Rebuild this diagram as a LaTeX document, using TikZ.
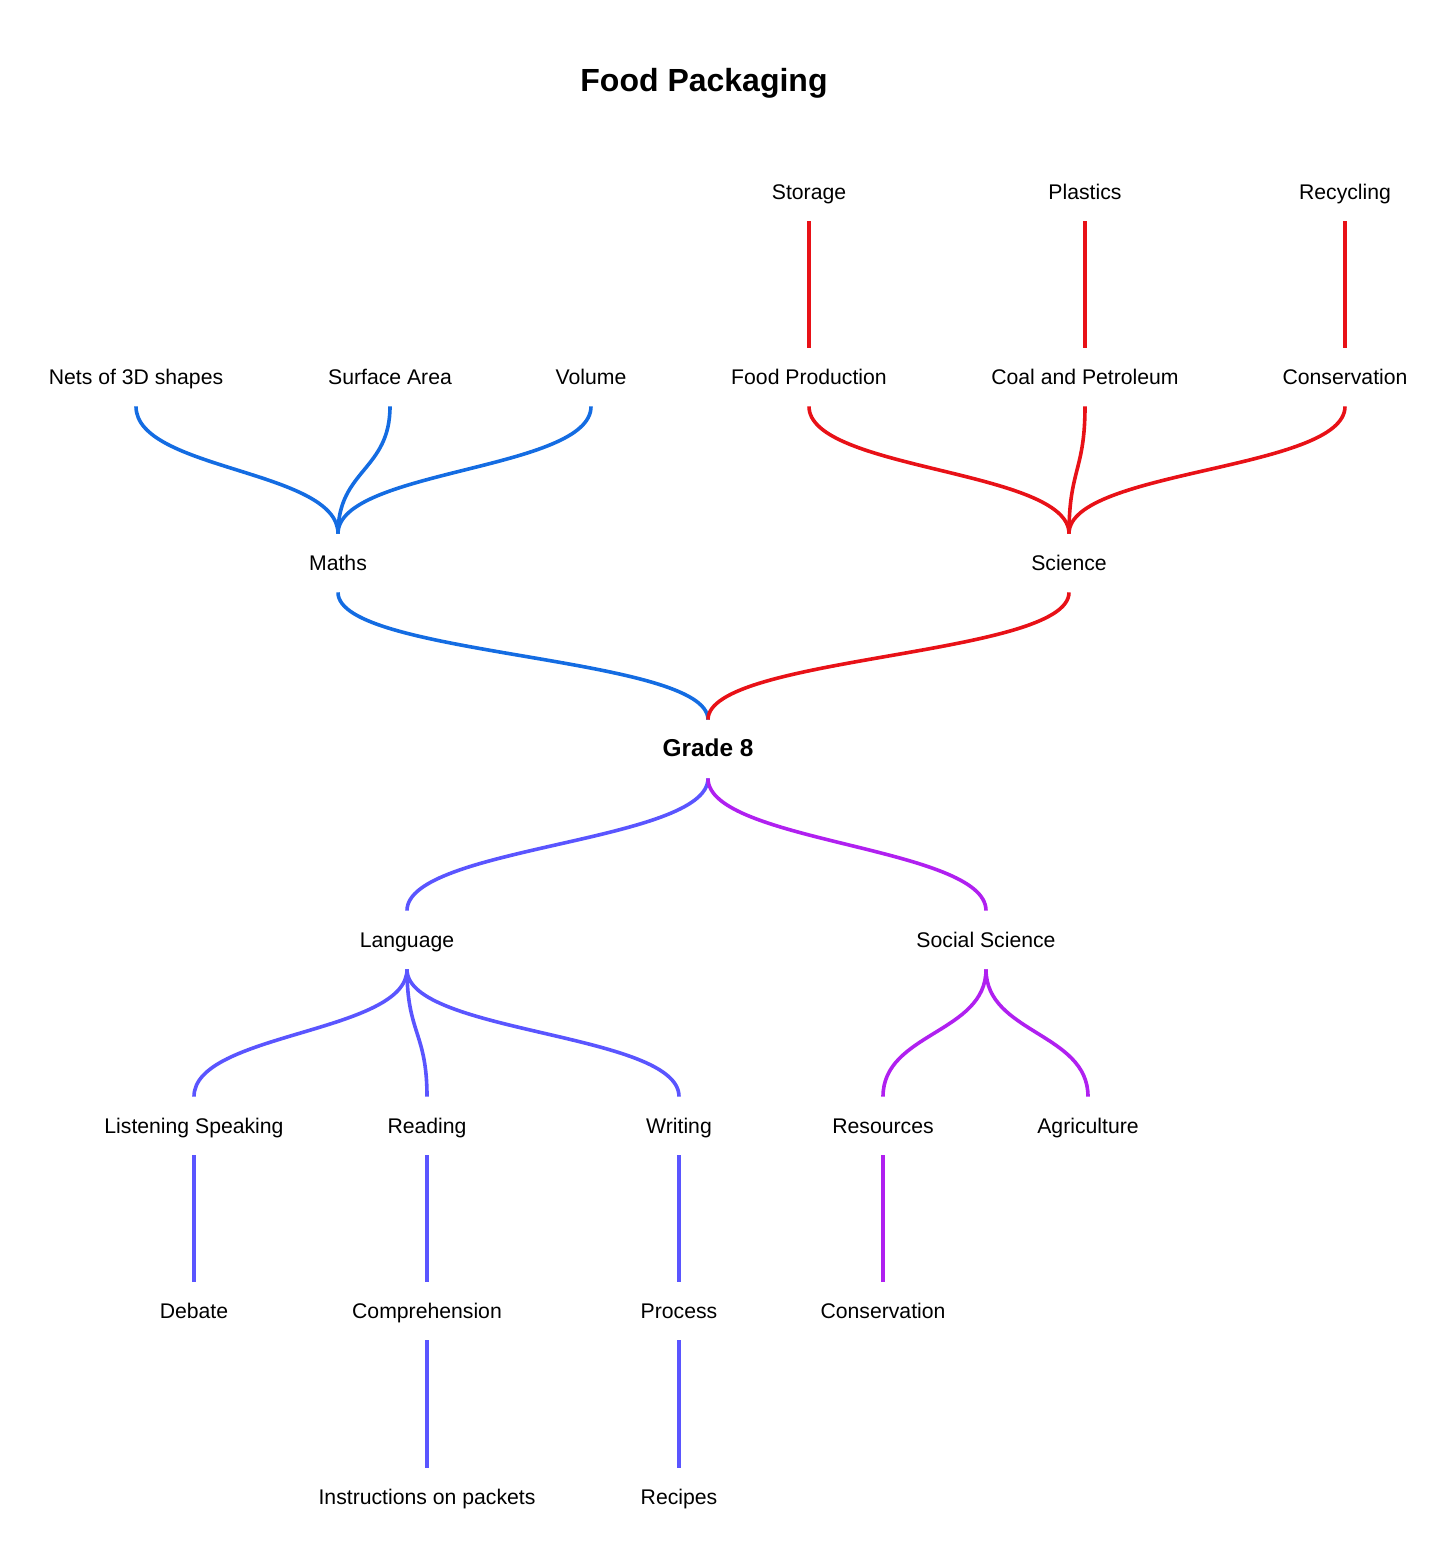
\documentclass[tikz,border=0pt]{standalone}
\usepackage{fontspec}
\setmainfont{Liberation Sans}
\usetikzlibrary{positioning}
\definecolor{mathsblue}{RGB}{20,108,226}
\definecolor{sciencered}{RGB}{232,17,23}
\definecolor{langblue}{RGB}{90,85,255}
\definecolor{socialpurple}{RGB}{176,32,240}
\tikzset{
	x=0.5pt,
	y=-0.5pt,
	topic/.style={
		inner sep=0pt,
		minimum height=29pt,
		text height=0.82em,
		text depth=0.11em,
		font=\fontsize{10.6}{12}\selectfont
	},
	hub/.style={
		topic,
		font=\fontsize{12.2}{14}\selectfont\bfseries
	},
	branch/.style={
		line width=1.8pt,
		to path={.. controls +(0,64) and +(0,-64) .. (\tikztotarget)}
	}
}

\begin{document}
\begin{tikzpicture}
  \useasboundingbox (0,0) rectangle (1456,1558);
  \node [font=\fontsize{16}{19}\selectfont\bfseries] (title) at (704,83) {Food Packaging};

  \node [topic] (storage) at (809,192) {Storage};
  \node [topic] (plastics) at (1085,192) {Plastics};
  \node [topic] (recycling) at (1345,192) {Recycling};

  \node [topic] (nets) at (136,377) {Nets of 3D shapes};
  \node [topic] (area) at (390,377) {Surface Area};
  \node [topic] (volume) at (591,377) {Volume};
  \node [topic] (food) at (809,377) {Food Production};
  \node [topic] (coal) at (1085,377) {Coal and Petroleum};
  \node [topic] (conserve) at (1345,377) {Conservation};

  \node [topic] (maths) at (338,563) {Maths};
  \node [topic] (science) at (1069,563) {Science};

  \node [hub] (grade) at (708,749) {Grade 8};

  \node [topic] (lang) at (407,940) {Language};
  \node [topic] (social) at (986,940) {Social Science};

  \node [topic] (listen) at (194,1126) {Listening Speaking};
  \node [topic] (reading) at (427,1126) {Reading};
  \node [topic] (writing) at (679,1126) {Writing};
  \node [topic] (resources) at (883,1126) {Resources};
  \node [topic] (agri) at (1088,1126) {Agriculture};

  \node [topic] (debate) at (194,1311) {Debate};
  \node [topic] (compre) at (427,1311) {Comprehension};
  \node [topic] (process) at (679,1311) {Process};
  \node [topic] (conserve2) at (883,1311) {Conservation};

  \node [topic] (instr) at (427,1497) {Instructions on packets};
  \node [topic] (recipes) at (679,1497) {Recipes};

  % maths branch
  \draw [branch, mathsblue] (nets.south) to (maths.north);
  \draw [branch, mathsblue] (area.south) to (maths.north);
  \draw [branch, mathsblue] (volume.south) to (maths.north);
  \draw [branch, mathsblue] (maths.south) to (grade.north);

  % science branch
  \draw [branch, sciencered] (storage.south) to (food.north);
  \draw [branch, sciencered] (plastics.south) to (coal.north);
  \draw [branch, sciencered] (recycling.south) to (conserve.north);
  \draw [branch, sciencered] (food.south) to (science.north);
  \draw [branch, sciencered] (coal.south) to (science.north);
  \draw [branch, sciencered] (conserve.south) to (science.north);
  \draw [branch, sciencered] (science.south) to (grade.north);

  % language branch
  \draw [branch, langblue] (grade.south) to (lang.north);
  \draw [branch, langblue] (lang.south) to (listen.north);
  \draw [branch, langblue] (lang.south) to (reading.north);
  \draw [branch, langblue] (lang.south) to (writing.north);
  \draw [branch, langblue] (listen.south) to (debate.north);
  \draw [branch, langblue] (reading.south) to (compre.north);
  \draw [branch, langblue] (writing.south) to (process.north);
  \draw [branch, langblue] (compre.south) to (instr.north);
  \draw [branch, langblue] (process.south) to (recipes.north);

  % social science branch
  \draw [branch, socialpurple] (grade.south) to (social.north);
  \draw [branch, socialpurple] (social.south) to (resources.north);
  \draw [branch, socialpurple] (social.south) to (agri.north);
  \draw [branch, socialpurple] (resources.south) to (conserve2.north);
\end{tikzpicture}
\end{document}
